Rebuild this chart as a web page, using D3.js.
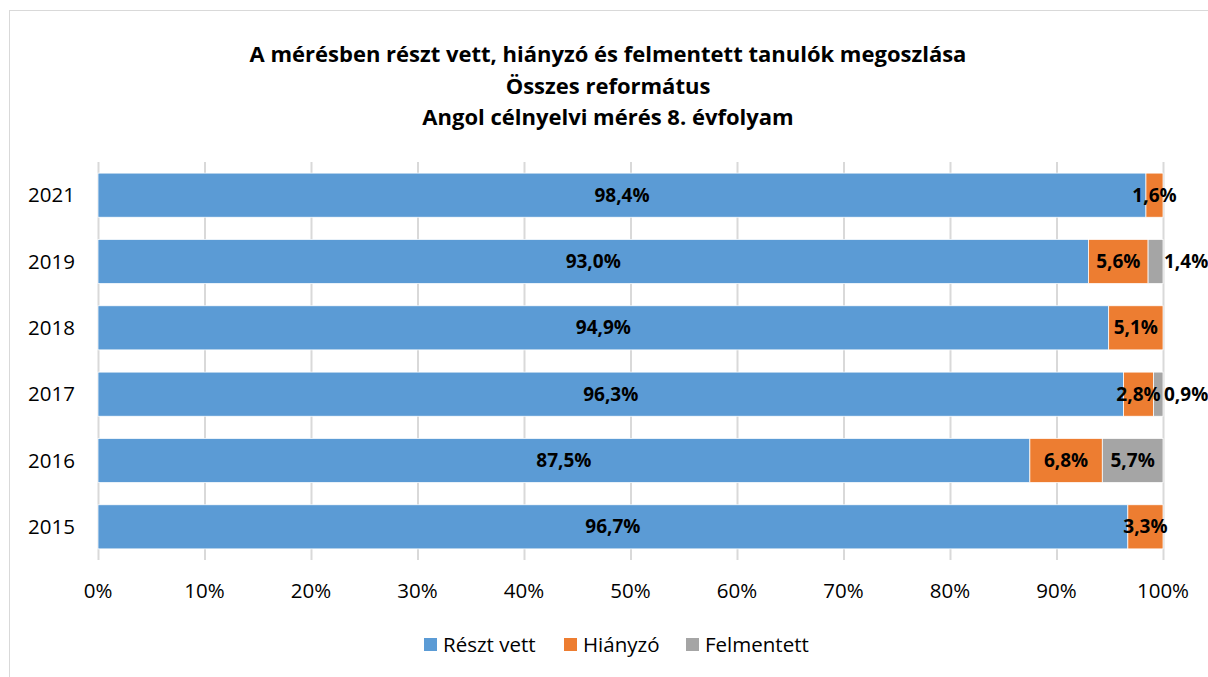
<!DOCTYPE html>
<meta charset="utf-8">
<script src="https://d3js.org/d3.v7.min.js"></script>
<style>
    body { margin: 0; background: #fff; }
    text { font-family: 'Open Sans', 'Noto Sans', sans-serif; fill: #000; }
    .title { font-weight: bold; font-size: 22px; text-anchor: middle; }
    .tick-label { font-size: 20.5px; }
    .val { font-weight: bold; font-size: 19px; }
</style>
<div id="chart"></div>
<script>
    // data
    const years = ["2021", "2019", "2018", "2017", "2016", "2015"];
    const reszt = [98.4, 93.0, 94.9, 96.3, 87.5, 96.7];
    const hianyzo = [1.6, 5.6, 5.1, 2.8, 6.8, 3.3];
    const felmentett = [0, 1.4, 0, 0.9, 5.7, 0];
    const seriesNames = ["Részt vett", "Hiányzó", "Felmentett"];
    const seriesColors = ["#5B9BD5", "#ED7D31", "#A5A5A5"];
    const xTicks = [0, 10, 20, 30, 40, 50, 60, 70, 80, 90, 100];
    const titleLines = [
        "A mérésben részt vett, hiányzó és felmentett tanulók megoszlása",
        "Összes református",
        "Angol célnyelvi mérés 8. évfolyam"
    ];

    const W = 1208, H = 677;
    const plot = {left: 98, right: 1163, top: 162, bottom: 560};

    let svg = d3.select("#chart").append("svg")
        .attr("width", W).attr("height", H);

    // chart border
    svg.append("rect")
        .attr("x", 9.5).attr("y", 10.5)
        .attr("width", W + 20).attr("height", H + 20)
        .attr("fill", "none").attr("stroke", "#d9d9d9");

    svg.selectAll(".title")
        .data(titleLines)
        .enter().append("text")
        .attr("class", "title")
        .attr("x", 608)
        .attr("y", (d, i) => 62 + i * 31.5)
        .text(d => d);

    let x = d3.scaleLinear().domain([0, 100]).range([plot.left, plot.right]);
    let y = d3.scaleBand().domain(years).range([plot.top, plot.bottom])
        .paddingInner(0.335).paddingOuter(0.1675);

    // gridlines
    svg.selectAll(".grid")
        .data(xTicks)
        .enter().append("line")
        .attr("x1", d => x(d) + 0.5).attr("x2", d => x(d) + 0.5)
        .attr("y1", plot.top).attr("y2", plot.bottom)
        .attr("stroke", "#d9d9d9").attr("stroke-width", 2);

    // x tick labels
    svg.selectAll(".xlab")
        .data(xTicks)
        .enter().append("text")
        .attr("class", "tick-label")
        .attr("x", d => x(d))
        .attr("y", 598)
        .attr("text-anchor", "middle")
        .text(d => d + "%");

    // y labels
    svg.selectAll(".ylab")
        .data(years)
        .enter().append("text")
        .attr("class", "tick-label")
        .attr("x", 75)
        .attr("y", d => y(d) + y.bandwidth() / 2)
        .attr("dy", "0.35em")
        .attr("text-anchor", "end")
        .text(d => d);

    // stacked segments
    let rows = years.map((yr, i) => {
        let vals = [reszt[i], hianyzo[i], felmentett[i]];
        let start = 0;
        return vals.map((v, k) => {
            let seg = {year: yr, k: k, v: v, x0: start, x1: start + v};
            start += v;
            return seg;
        }).filter(s => s.v > 0);
    });

    rows.forEach(segs => {
        let g = svg.append("g");
        g.selectAll("rect")
            .data(segs)
            .enter().append("rect")
            .attr("x", d => x(d.x0))
            .attr("y", d => y(d.year))
            .attr("width", d => x(d.x1) - x(d.x0))
            .attr("height", y.bandwidth())
            .attr("fill", d => seriesColors[d.k])
            .attr("stroke", "#fff")
            .attr("stroke-width", 0.75);

        // labels, pushed right when they would overlap
        let prevEnd = -Infinity;
        segs.forEach(d => {
            let t = g.append("text")
                .attr("class", "val")
                .attr("y", y(d.year) + y.bandwidth() / 2)
                .attr("dy", "0.35em")
                .text(d.v.toFixed(1).replace(".", ",") + "%");
            let w = t.node().getComputedTextLength();
            let cx = (x(d.x0) + x(d.x1)) / 2;
            let left = cx - w / 2;
            if (left < prevEnd) left = x(d.x1) + 1;
            t.attr("x", left);
            prevEnd = left + w;
        });
    });

    // legend
    let legendX = [424, 564, 686];
    let legend = svg.selectAll(".legend")
        .data(seriesNames)
        .enter().append("g")
        .attr("transform", (d, i) => "translate(" + legendX[i] + ",645)");
    legend.append("rect")
        .attr("x", 0).attr("y", -7)
        .attr("width", 13).attr("height", 13)
        .attr("fill", (d, i) => seriesColors[i]);
    legend.append("text")
        .attr("class", "tick-label")
        .attr("x", 19)
        .attr("dy", "0.35em")
        .text(d => d);
</script>
